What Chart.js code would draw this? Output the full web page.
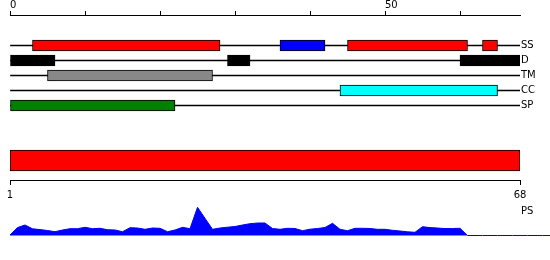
<!DOCTYPE html>
<html><head><meta charset="utf-8">
<script src="https://cdn.jsdelivr.net/npm/chart.js@4/dist/chart.umd.min.js"></script>
<style>
html,body{margin:0;padding:0;background:#fff;}
#wrap{position:relative;width:550px;height:260px;overflow:hidden;background:#fff;}
.c{position:absolute;left:0;width:550px;}
</style></head><body>
<div id="wrap">
<div class="c" style="top:0;height:120px"><canvas id="a"></canvas></div>
<div class="c" style="top:120px;height:85px"><canvas id="b"></canvas></div>
<div class="c" style="top:195px;height:65px"><canvas id="c"></canvas></div>
</div>
<script>
// ---- data ----
const seqLength = 68;
const trackLabels = ['SS', 'D', 'TM', 'CC', 'SP'];
const ssSegments = [[3, 28], [36, 42], [45, 61], [63, 65]];
const ssColors = ['#ff0000', '#0000ff', '#ff0000', '#ff0000'];
const disorderSegments = [[0, 6], [29, 32], [60, 68]];
const tmSegments = [[5, 27]];
const ccSegments = [[44, 65]];
const spSegments = [[0, 22]];
const topTickValues = [0, 10, 20, 30, 40, 50, 60];
const topTickLabels = { 0: '0', 50: '50' };
const psRange = [1, 68];
const bottomTickValues = [1, 68];
const bottomTickLabels = ['1', '68'];
const profileLabel = 'PS';
const profileValues = [
  0.5, 7.9, 10.5, 6.7, 5.9, 5.0, 3.8, 5.5, 6.8, 6.8,
  8.2, 6.8, 7.2, 5.8, 5.5, 3.8, 7.8, 7.5, 6.2, 7.5,
  7.2, 3.8, 5.5, 8.2, 6.8, 28.2, 17.2, 6.2, 7.5, 8.3,
  9.0, 10.5, 11.8, 12.5, 12.5, 7.0, 6.2, 7.2, 7.0, 4.8,
  6.3, 7.0, 8.0, 12.2, 6.2, 4.8, 7.2, 7.2, 7.0, 6.2,
  6.2, 5.2, 4.5, 3.7, 3.2, 8.8, 7.9, 7.5, 6.9, 7.0,
  7.2, 0, 0, 0, 0, 0, 0, 0, 0, 0,
  0, 0, 0
];

Chart.defaults.font.family = "'DejaVu Sans', sans-serif";
Chart.defaults.font.size = 10;
Chart.defaults.color = '#000';

const font = { family: "'DejaVu Sans', sans-serif", size: 10 };
const common = {
  responsive: true, maintainAspectRatio: false, animation: false,
  plugins: { legend: { display: false }, tooltip: { enabled: false } }
};
function seg(list, row) { return list.map(s => ({ x: s, y: row })); }
function noPad(s) { s.paddingTop = 0; s.paddingBottom = 0; s.paddingLeft = 0; s.paddingRight = 0; }
const barStyle = { borderColor: '#000', borderWidth: 1, borderSkipped: false, barThickness: 11, grouped: false };

// ---- chart A: feature tracks ----
new Chart(document.getElementById('a'), {
  type: 'bar',
  data: {
    datasets: [
      Object.assign({ data: seg(ssSegments, 0), backgroundColor: ssColors }, barStyle),
      Object.assign({ data: seg(disorderSegments, 1), backgroundColor: '#000000' }, barStyle),
      Object.assign({ data: seg(tmSegments, 2), backgroundColor: '#888888' }, barStyle),
      Object.assign({ data: seg(ccSegments, 3), backgroundColor: '#00ffff' }, barStyle),
      Object.assign({ data: seg(spSegments, 4), backgroundColor: '#008000' }, barStyle),
      { data: trackLabels.map((_, i) => ({ x: [0, seqLength], y: i })), backgroundColor: '#000', borderWidth: 0, barThickness: 1, grouped: false }
    ]
  },
  options: Object.assign({}, common, {
    indexAxis: 'y',
    layout: { padding: { left: 10, right: 0, top: 0, bottom: 0 } },
    scales: {
      x: {
        type: 'linear', position: 'top', min: 0, max: seqLength, offset: false,
        afterBuildTicks: s => { s.ticks = topTickValues.map(v => ({ value: v })); },
        afterFit: s => { s.height = 15; noPad(s); },
        grid: { drawOnChartArea: false, drawTicks: true, tickLength: 4, color: '#000', offset: false },
        border: { display: true, color: '#000', width: 1 },
        ticks: { align: 'start', padding: 0, color: '#000', font, maxRotation: 0, autoSkip: false,
          callback: v => (topTickLabels[v] !== undefined ? topTickLabels[v] : '') }
      },
      y: {
        type: 'linear', position: 'right', reverse: true, offset: false,
        min: -30.5 / 15, max: -30.5 / 15 + 7,
        afterBuildTicks: s => { s.ticks = trackLabels.map((_, i) => ({ value: i })); },
        afterFit: s => { s.width = 30; noPad(s); },
        grid: { display: false, drawTicks: false, offset: false },
        border: { display: false },
        ticks: { padding: 1, color: '#000', font, autoSkip: false, callback: v => trackLabels[v] }
      }
    }
  })
});

// ---- chart B: PS bar with residue axis ----
new Chart(document.getElementById('b'), {
  type: 'bar',
  data: { datasets: [{ data: [{ x: psRange, y: 0 }], backgroundColor: '#ff0000', borderColor: '#000', borderWidth: 1, borderSkipped: false, barThickness: 21 }] },
  options: Object.assign({}, common, {
    indexAxis: 'y',
    layout: { padding: { left: 10, right: 30, top: 21, bottom: 0 } },
    scales: {
      x: {
        type: 'linear', position: 'bottom', min: psRange[0], max: psRange[1], offset: false,
        afterBuildTicks: s => { s.ticks = bottomTickValues.map(v => ({ value: v })); },
        afterFit: s => { s.height = 25; noPad(s); },
        grid: { drawOnChartArea: false, drawTicks: true, tickLength: 5, color: '#000', offset: false },
        border: { display: true, color: '#000', width: 1 },
        ticks: { padding: 4, color: '#000', font, maxRotation: 0, autoSkip: false,
          callback: (v, i) => bottomTickLabels[i] }
      },
      y: { type: 'linear', display: false, min: -1, max: 1, offset: false }
    }
  })
});

// ---- chart C: profile area ----
new Chart(document.getElementById('c'), {
  type: 'line',
  data: { datasets: [{ data: profileValues.map((v, i) => ({ x: i, y: v })), borderColor: '#0000ff', backgroundColor: '#0000ff', borderWidth: 1, fill: 'origin', pointRadius: 0, tension: 0, clip: false }] },
  options: Object.assign({}, common, {
    layout: { padding: { left: 10, right: 0, top: 10, bottom: 24 } },
    scales: {
      x: { type: 'linear', display: false, bounds: 'data', offset: false,
        afterDataLimits: s => { s.min = 0; s.max = seqLength; } },
      y: {
        type: 'linear', position: 'right', min: -0.5, max: 30.5,
        afterBuildTicks: s => { s.ticks = [{ value: 24 }]; },
        afterFit: s => { s.width = 30; noPad(s); },
        grid: { display: false, drawTicks: false },
        border: { display: false },
        ticks: { padding: 1, color: '#000', font, callback: () => profileLabel }
      }
    }
  })
});
</script>
</body></html>
